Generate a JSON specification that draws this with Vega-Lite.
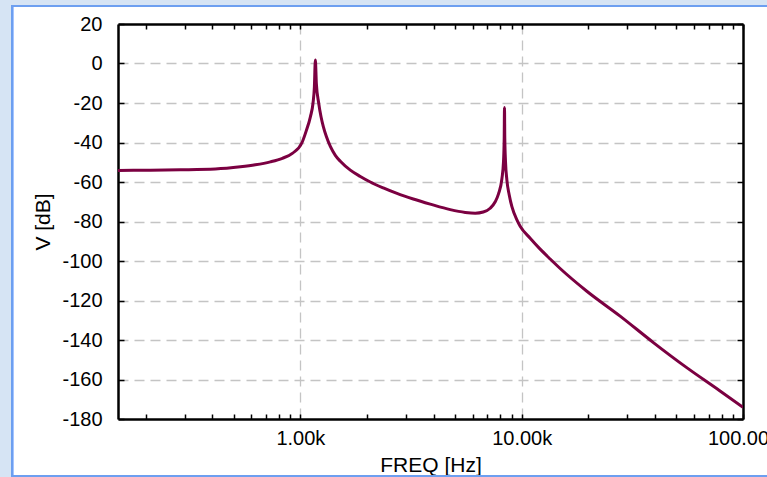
{
  "$schema": "https://vega.github.io/schema/vega-lite/v6.json",
  "width": 625,
  "height": 395,
  "autosize": {"type": "none"},
  "padding": {"left": 118, "top": 24, "right": 24, "bottom": 58},
  "background": "#ffffff",
  "config": {
    "view": {"stroke": null, "fill": null},
    "font": "Liberation Sans",
    "axis": {
      "domainColor": "#000000",
      "domainWidth": 2.5,
      "tickColor": "#000000",
      "tickWidth": 1.5,
      "labelFont": "Liberation Sans",
      "labelFontSize": 20,
      "labelColor": "#000000",
      "titleFont": "Liberation Sans",
      "titleFontSize": 21,
      "titleFontWeight": "normal",
      "titleColor": "#000000",
      "gridColor": "#c4c4c4",
      "gridDash": [10, 6],
      "gridWidth": 1.3
    }
  },
  "data": {
    "values": [
      {"f": 150, "db": -54.2},
      {"f": 210, "db": -54.0},
      {"f": 287, "db": -53.8},
      {"f": 413, "db": -53.4},
      {"f": 536, "db": -52.3},
      {"f": 626, "db": -51.3},
      {"f": 732, "db": -49.8},
      {"f": 829, "db": -48.0},
      {"f": 920, "db": -45.5},
      {"f": 1018, "db": -40.0},
      {"f": 1064, "db": -34.0},
      {"f": 1110, "db": -27.0},
      {"f": 1141, "db": -20.0},
      {"f": 1157, "db": -12.0},
      {"f": 1169, "db": 1.8},
      {"f": 1181, "db": -10.0},
      {"f": 1210, "db": -20.0},
      {"f": 1240, "db": -27.0},
      {"f": 1270, "db": -32.0},
      {"f": 1311, "db": -37.0},
      {"f": 1366, "db": -42.0},
      {"f": 1439, "db": -46.5},
      {"f": 1516, "db": -49.5},
      {"f": 1682, "db": -54.0},
      {"f": 1866, "db": -57.2},
      {"f": 2070, "db": -60.0},
      {"f": 2370, "db": -63.0},
      {"f": 2733, "db": -65.8},
      {"f": 3237, "db": -68.6},
      {"f": 3863, "db": -71.2},
      {"f": 4755, "db": -74.0},
      {"f": 5557, "db": -75.4},
      {"f": 6168, "db": -75.8},
      {"f": 6704, "db": -75.2},
      {"f": 7207, "db": -73.3},
      {"f": 7594, "db": -70.0},
      {"f": 7858, "db": -66.0},
      {"f": 8138, "db": -58.5},
      {"f": 8277, "db": -49.6},
      {"f": 8337, "db": -38.0},
      {"f": 8363, "db": -22.3},
      {"f": 8390, "db": -38.0},
      {"f": 8452, "db": -49.6},
      {"f": 8574, "db": -59.0},
      {"f": 8781, "db": -66.5},
      {"f": 9033, "db": -72.5},
      {"f": 9573, "db": -79.8},
      {"f": 9845, "db": -82.4},
      {"f": 10924, "db": -88.5},
      {"f": 12119, "db": -94.0},
      {"f": 13450, "db": -99.0},
      {"f": 14920, "db": -103.8},
      {"f": 19700, "db": -115.3},
      {"f": 27850, "db": -127.9},
      {"f": 39360, "db": -141.3},
      {"f": 55690, "db": -154.0},
      {"f": 78760, "db": -165.8},
      {"f": 100000, "db": -174.1}
    ]
  },
  "layer": [
    {
      "mark": {"type": "line", "color": "#7b0041", "strokeWidth": 3, "interpolate": "monotone", "clip": true},
      "encoding": {
        "x": {
          "field": "f", "type": "quantitative",
          "scale": {"type": "log", "domain": [150, 100000]},
          "axis": {
            "orient": "bottom",
            "title": "FREQ [Hz]",
            "titlePadding": 6,
            "values": [200,300,400,500,600,700,800,900,1000,2000,3000,4000,5000,6000,7000,8000,9000,10000,20000,30000,40000,50000,60000,70000,80000,90000,100000],
            "labelExpr": "datum.value == 1000 ? '1.00k' : datum.value == 10000 ? '10.00k' : datum.value == 100000 ? '100.00k' : ''",
            "labelOverlap": false,
            "labelFlush": false,
            "tickSize": -5,
            "labelPadding": 14,
            "gridOpacity": {"condition": {"test": "datum.value == 1000 || datum.value == 10000", "value": 1}, "value": 0}
          }
        },
        "y": {
          "field": "db", "type": "quantitative",
          "scale": {"domain": [-180, 20]},
          "axis": {
            "orient": "left",
            "title": "V [dB]",
            "titlePadding": 8,
            "values": [-180,-160,-140,-120,-100,-80,-60,-40,-20,0,20],
            "labelExpr": "'' + datum.value",
            "tickSize": -6,
            "labelPadding": 22,
            "gridOpacity": {"condition": {"test": "datum.value > -180 && datum.value < 20", "value": 1}, "value": 0}
          }
        }
      }
    },
    {
      "mark": {"type": "line", "strokeOpacity": 0},
      "encoding": {
        "x": {
          "field": "f", "type": "quantitative",
          "scale": {"type": "log", "domain": [150, 100000]},
          "axis": {
            "orient": "top", "title": null, "labels": false, "grid": false,
            "values": [200,300,400,500,600,700,800,900,1000,2000,3000,4000,5000,6000,7000,8000,9000,10000,20000,30000,40000,50000,60000,70000,80000,90000,100000],
            "tickSize": -5
          }
        },
        "y": {
          "field": "db", "type": "quantitative",
          "scale": {"domain": [-180, 20]},
          "axis": {
            "orient": "right", "title": null, "labels": false, "grid": false,
            "values": [-180,-160,-140,-120,-100,-80,-60,-40,-20,0,20],
            "tickSize": -6
          }
        }
      }
    },
    {
      "mark": {"type": "rect", "fill": null, "stroke": "#d6e4f4", "strokeWidth": 24, "clip": false},
      "encoding": {
        "x": {"datum": 43.95, "type": "quantitative", "scale": {"type": "log", "domain": [150, 100000]}, "axis": null},
        "x2": {"datum": 400000},
        "y": {"datum": 35.19, "type": "quantitative", "scale": {"domain": [-180, 20]}, "axis": null},
        "y2": {"datum": -214.94}
      }
    },
    {
      "mark": {"type": "rect", "fill": null, "stroke": "#6d9ff0", "strokeWidth": 2, "clip": false},
      "encoding": {
        "x": {"datum": 49.8, "type": "quantitative", "scale": {"type": "log", "domain": [150, 100000]}, "axis": null},
        "x2": {"datum": 400000},
        "y": {"datum": 29.11, "type": "quantitative", "scale": {"domain": [-180, 20]}, "axis": null},
        "y2": {"datum": -208.86}
      }
    }
  ],
  "resolve": {"axis": {"x": "independent", "y": "independent"}}
}
